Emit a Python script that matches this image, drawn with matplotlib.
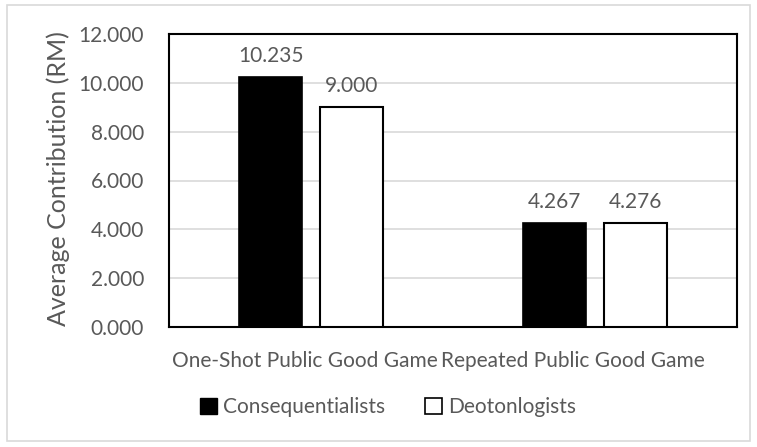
import numpy as np
import matplotlib.pyplot as plt
import matplotlib.transforms as mtransforms
from matplotlib.patches import Rectangle, Patch

# Chart data
categories = ['One-Shot Public Good Game', 'Repeated Public Good Game']
series_names = ['Consequentialists', 'Deotonlogists']
conseq = [10.235, 4.267]
deont = [9.000, 4.276]
y_ticks = [0, 2, 4, 6, 8, 10, 12]

text_color = '#595959'
plt.rcParams['font.family'] = ['Lato', 'DejaVu Sans']
fs = 15

fig = plt.figure(figsize=(7.57, 4.47), dpi=100)
W, H = 757, 447
# plot area in pixels: left 169, right 737, top 34, bottom 327
ax = fig.add_axes([169 / W, 1 - 327 / H, (737 - 169) / W, (327 - 34) / H])

x = np.arange(len(categories))
width = 0.225
off = width / 2 + 0.03
b1 = ax.bar(x - off, conseq, width, color='black', edgecolor='black', linewidth=1.2,
            label=series_names[0], zorder=3)
b2 = ax.bar(x + off, deont, width, color='white', edgecolor='black', linewidth=1.5,
            label=series_names[1], zorder=3)

for bars, vals in [(b1, conseq), (b2, deont)]:
    for bar, v in zip(bars, vals):
        ax.text(bar.get_x() + bar.get_width() / 2, v + 0.45, f'{v:.3f}',
                ha='center', va='bottom', fontsize=fs, color=text_color)

ax.set_xlim(-0.5, 1.5)
ax.set_ylim(0, 12)
ax.set_yticks(y_ticks)
ax.set_yticklabels([f'{t:.3f}' for t in y_ticks], fontsize=fs, color=text_color)
ax.set_xticks(x)
ax.set_xticklabels(categories, fontsize=fs, color=text_color)
ax.tick_params(axis='y', length=0, pad=18)
ax.tick_params(axis='x', length=0, pad=17)
# the category labels sit a bit left of the bar groups, as in the original
for lab, dx in zip(ax.get_xticklabels(), [-6, -22]):
    lab.set_transform(lab.get_transform() +
                      mtransforms.ScaledTranslation(dx / 100, 0, fig.dpi_scale_trans))
ax.yaxis.grid(True, color='#d9d9d9', linewidth=1.2, zorder=0)
for s in ax.spines.values():
    s.set_color('black')
    s.set_linewidth(1.5)

fig.text(58 / W, 1 - 179 / H, 'Average Contribution (RM)', rotation=90,
         ha='center', va='center', fontsize=18, color=text_color)

handles = [Patch(facecolor='black', edgecolor='black'),
           Patch(facecolor='white', edgecolor='black', linewidth=1.2)]
fig.legend(handles, series_names, loc='center', bbox_to_anchor=(388 / W, 1 - 407 / H),
           ncol=2, frameon=False, fontsize=fs, labelcolor=text_color,
           handlelength=0.8, handleheight=0.8, handletextpad=0.3, columnspacing=1.9)

# outer chart border
fig.patches.append(Rectangle((7 / W, 1 - 441 / H), (750 - 7) / W, (441 - 5) / H,
                             transform=fig.transFigure, fill=False,
                             edgecolor='#d9d9d9', linewidth=1.2))

fig.savefig('out.png', dpi=100)
